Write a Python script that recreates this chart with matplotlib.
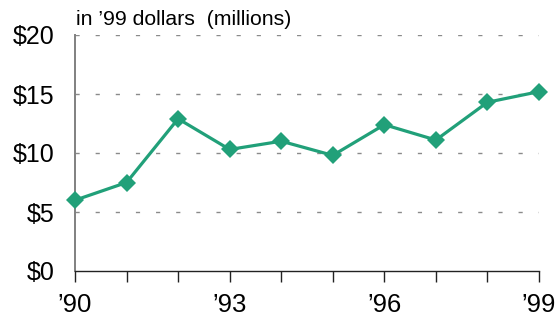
import matplotlib
matplotlib.use("Agg")
import matplotlib.pyplot as plt

years = [1990, 1991, 1992, 1993, 1994, 1995, 1996, 1997, 1998, 1999]
values = [6.0, 7.5, 12.9, 10.3, 11.0, 9.8, 12.4, 11.1, 14.3, 15.2]
x_ticklabels = ["\u201990", "", "", "\u201993", "", "", "\u201996", "", "", "\u201999"]
y_ticks = [0, 5, 10, 15, 20]
y_ticklabels = ["$0", "$5", "$10", "$15", "$20"]

plt.rcParams["font.family"] = ["Liberation Sans", "DejaVu Sans"]

fig = plt.figure(figsize=(5.57, 3.22), dpi=100)
ax = fig.add_axes([75 / 557, 1 - 271 / 322, (539 - 75) / 557, (271 - 35) / 322])

green = "#21a079"

for y in y_ticks[1:]:
    ax.axhline(y, color="#8a8a8a", lw=1.0, dashes=(3, 11.5), zorder=1)

ax.plot(years, values, color=green, lw=2.3, marker="D", markersize=9.5,
        markeredgewidth=0, clip_on=False, zorder=3)

ax.set_xlim(years[0], years[-1])
ax.set_ylim(0, 20)

ax.set_xticks(years)
ax.set_xticklabels(x_ticklabels, fontsize=18.5)
ax.set_yticks(y_ticks)
ax.set_yticklabels(y_ticklabels, fontsize=18)

ax.tick_params(axis="x", direction="out", length=8, width=1, color="#222222", pad=8)
ax.tick_params(axis="y", length=0, pad=15)

for side in ("top", "right"):
    ax.spines[side].set_visible(False)
ax.spines["left"].set_color("#808080")
ax.spines["left"].set_linewidth(1.4)
ax.spines["bottom"].set_color("#222222")
ax.spines["bottom"].set_linewidth(1.0)

fig.text(76 / 557, 1 - 25 / 322, "in \u201999 dollars  (millions)", fontsize=15.3,
         ha="left", va="baseline")

fig.savefig("out.png", dpi=100)
